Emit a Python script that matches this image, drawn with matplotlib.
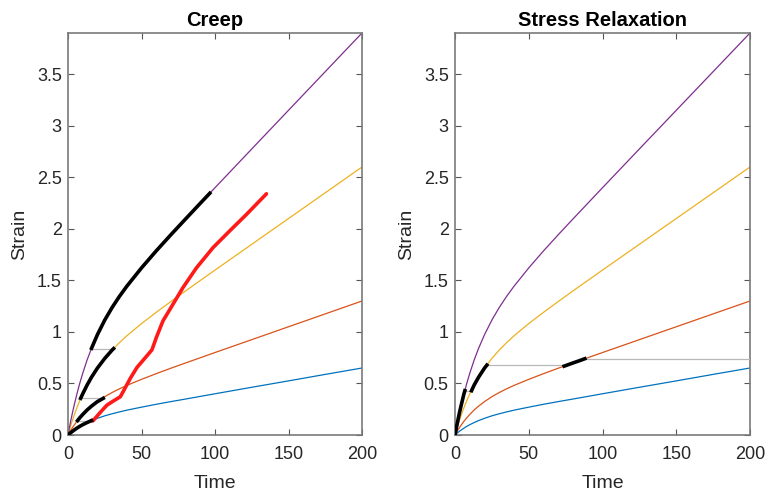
import matplotlib
matplotlib.use("Agg")
import matplotlib.pyplot as plt

plt.rcParams['font.family'] = ['Liberation Sans', 'DejaVu Sans']

# ---- data ----
t_vals = [0, 1, 2, 3, 4, 6, 8, 10, 13, 16, 20, 25, 30, 35, 40, 50, 60, 70, 80, 100, 125, 150, 175, 200]
blue = [0, 0.013, 0.024, 0.036, 0.046, 0.066, 0.084, 0.100, 0.121, 0.140, 0.162, 0.186, 0.206, 0.224,
        0.241, 0.270, 0.298, 0.324, 0.349, 0.400, 0.463, 0.525, 0.588, 0.650]
orange = [0, 0.025, 0.049, 0.071, 0.092, 0.132, 0.167, 0.199, 0.243, 0.280, 0.324, 0.372, 0.412, 0.448,
          0.481, 0.540, 0.595, 0.648, 0.699, 0.800, 0.925, 1.050, 1.175, 1.300]
yellow = [0, 0.050, 0.097, 0.142, 0.185, 0.263, 0.334, 0.399, 0.485, 0.561, 0.649, 0.743, 0.824, 0.896,
          0.962, 1.081, 1.190, 1.295, 1.398, 1.600, 1.850, 2.100, 2.350, 2.600]
purple = [0, 0.075, 0.146, 0.214, 0.277, 0.395, 0.502, 0.598, 0.728, 0.841, 0.973, 1.115, 1.237, 1.345,
          1.443, 1.621, 1.786, 1.943, 2.096, 2.399, 2.775, 3.150, 3.525, 3.900]

# creep panel: black segments (t, strain)
creep_seg1_t = [0, 1, 2, 4, 6, 8, 10, 13, 16]
creep_seg1_y = [0, 0.013, 0.024, 0.046, 0.066, 0.084, 0.100, 0.121, 0.140]
creep_seg2_t = [6.5, 8, 10, 13, 16, 20, 24]
creep_seg2_y = [0.140, 0.167, 0.199, 0.243, 0.280, 0.324, 0.356]
creep_seg3_t = [8.6, 10, 13, 16, 20, 25, 30, 31]
creep_seg3_y = [0.356, 0.399, 0.485, 0.561, 0.649, 0.743, 0.824, 0.838]
creep_seg4_t = [16, 20, 25, 30, 35, 40, 50, 60, 70, 80, 90, 96.5]
creep_seg4_y = [0.841, 0.973, 1.115, 1.237, 1.345, 1.443, 1.621, 1.786, 1.943, 2.096, 2.248, 2.346]
creep_gray_y = [0.140, 0.356, 0.838]
creep_gray_t0 = [6.5, 8.6, 16]
creep_gray_t1 = [16, 24, 31]
red_t = [16, 17.0, 22.0, 26.5, 31.1, 35.6, 39.0, 42.4, 46.9, 52.6, 57.1, 60.1, 64.6, 71.4, 78.2, 87.3,
         98.6, 110, 121.4, 135]
red_y = [0.14, 0.138, 0.22, 0.29, 0.332, 0.371, 0.46, 0.55, 0.655, 0.75, 0.826, 0.946, 1.107, 1.268,
         1.43, 1.62, 1.817, 1.98, 2.14, 2.34]

# relaxation panel: black segments
relax_seg1_t = [0, 1, 2, 3, 4, 6, 6.7]
relax_seg1_y = [0, 0.075, 0.146, 0.214, 0.277, 0.395, 0.43]
relax_seg2_t = [11.2, 13, 16, 20, 21.6]
relax_seg2_y = [0.43, 0.485, 0.561, 0.649, 0.678]
relax_seg3_t = [74, 80, 85, 88]
relax_seg3_y = [0.668, 0.699, 0.724, 0.740]
relax_gray_y = [0.43, 0.678, 0.740]
relax_gray_t0 = [6.7, 21.6, 88]
relax_gray_t1 = [11.2, 74, 200]

xticks = [0, 50, 100, 150, 200]
yticks = [0, 0.5, 1, 1.5, 2, 2.5, 3, 3.5]
ytick_labels = ['0', '0.5', '1', '1.5', '2', '2.5', '3', '3.5']

C_BLUE, C_ORANGE, C_YELLOW, C_PURPLE = '#0072BD', '#D95319', '#EDB120', '#7E2F8E'
GRAY = '#b8b8b8'

fig = plt.figure(figsize=(7.66, 4.92), dpi=100)
axL = fig.add_axes([68 / 766, 57 / 492, 294 / 766, 402 / 492])
axR = fig.add_axes([455 / 766, 57 / 492, 295 / 766, 402 / 492])


def base(ax):
    for y, c in zip([blue, orange, yellow, purple], [C_BLUE, C_ORANGE, C_YELLOW, C_PURPLE]):
        ax.plot(t_vals, y, color=c, lw=0.9, zorder=2)


def style(ax, title):
    ax.set_xlim(0, 200)
    ax.set_ylim(0, 3.9)
    ax.set_xticks(xticks)
    ax.set_yticks(yticks)
    ax.set_yticklabels(ytick_labels)
    ax.tick_params(direction='in', length=4.5, width=0.8, color='#555555', top=True, right=True,
                   labelsize=13, labelcolor='#262626')
    ax.tick_params(axis='x', pad=8)
    ax.tick_params(axis='y', pad=4.5)
    for s in ax.spines.values():
        s.set_color('#7a7a7a')
        s.set_linewidth(1.2)
    ax.set_xlabel('Time', fontsize=14, color='#262626', labelpad=8.5)
    ax.set_ylabel('Strain', fontsize=14, color='#262626', labelpad=6)
    ax.set_title(title, fontsize=14.5, fontweight='bold', color='black', pad=5)


base(axL)
for y, t0, t1 in zip(creep_gray_y, creep_gray_t0, creep_gray_t1):
    axL.plot([t0, t1], [y, y], color=GRAY, lw=0.9, zorder=3)
axL.plot(red_t, red_y, color='#ff1a1a', lw=2.6, zorder=4, solid_capstyle='round', solid_joinstyle='round')
for ts, ys in [(creep_seg1_t, creep_seg1_y), (creep_seg2_t, creep_seg2_y),
               (creep_seg3_t, creep_seg3_y), (creep_seg4_t, creep_seg4_y)]:
    axL.plot(ts, ys, color='black', lw=2.6, zorder=5)
style(axL, 'Creep')

base(axR)
for y, t0, t1 in zip(relax_gray_y, relax_gray_t0, relax_gray_t1):
    axR.plot([t0, t1], [y, y], color=GRAY, lw=0.9, zorder=3)
for ts, ys in [(relax_seg1_t, relax_seg1_y), (relax_seg2_t, relax_seg2_y), (relax_seg3_t, relax_seg3_y)]:
    axR.plot(ts, ys, color='black', lw=2.6, zorder=5)
style(axR, 'Stress Relaxation')

fig.savefig('out.png', dpi=100)
